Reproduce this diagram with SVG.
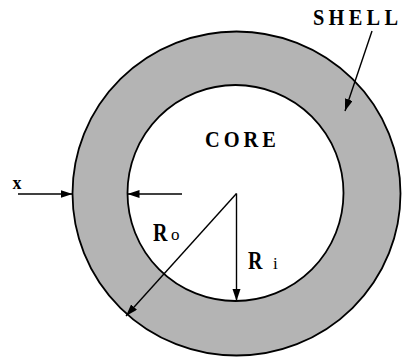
<svg xmlns="http://www.w3.org/2000/svg" width="402" height="357" viewBox="0 0 402 357">
<defs>
<style>
.lbl{font-family:"Liberation Serif","Times New Roman",serif;fill:#000}
.b{font-weight:bold}
.ln{stroke:#000;stroke-width:1.4;fill:none}
.edge{stroke:#000;stroke-width:1.8}
</style>
<marker id="ah" markerUnits="userSpaceOnUse" markerWidth="13" markerHeight="9" refX="12" refY="4" orient="auto">
<path d="M0,0 L12,4 L0,8 z" fill="#000"/>
</marker>
</defs>
<rect width="402" height="357" fill="#fff"/>
<g id="shell">
<ellipse cx="236.5" cy="193.5" rx="164" ry="162" fill="#b4b4b4" class="edge"/>
</g>
<g id="core">
<circle cx="235.5" cy="193" r="108" fill="#fff" class="edge"/>
<text class="lbl b" transform="translate(205,147) scale(0.85,1)" x="0" y="0" font-size="24" letter-spacing="4.7">CORE</text>
</g>
<g id="labels">
<text class="lbl b" transform="translate(313,25) scale(0.85,1)" x="0" y="0" font-size="24" letter-spacing="5">SHELL</text>
<text class="lbl b" x="12.5" y="188.5" font-size="18">x</text>
<text class="lbl b" transform="translate(153,241) scale(0.8,1)" x="0" y="0" font-size="25">R</text>
<text class="lbl" x="171" y="240" font-size="17">o</text>
<text class="lbl b" transform="translate(248,269) scale(0.8,1)" x="0" y="0" font-size="25">R</text>
<text class="lbl" x="273" y="269" font-size="17">i</text>
</g>
<g id="connectors">
<line class="ln" x1="18" y1="194" x2="72.5" y2="194" marker-end="url(#ah)"/>
<line class="ln" x1="182" y1="194" x2="127.5" y2="194" marker-end="url(#ah)"/>
<line class="ln" x1="236.5" y1="193.5" x2="126" y2="316" marker-end="url(#ah)"/>
<line class="ln" x1="236.5" y1="193.5" x2="236.5" y2="301" marker-end="url(#ah)"/>
<line class="ln" x1="372" y1="31" x2="345" y2="111" marker-end="url(#ah)"/>
</g>
</svg>
